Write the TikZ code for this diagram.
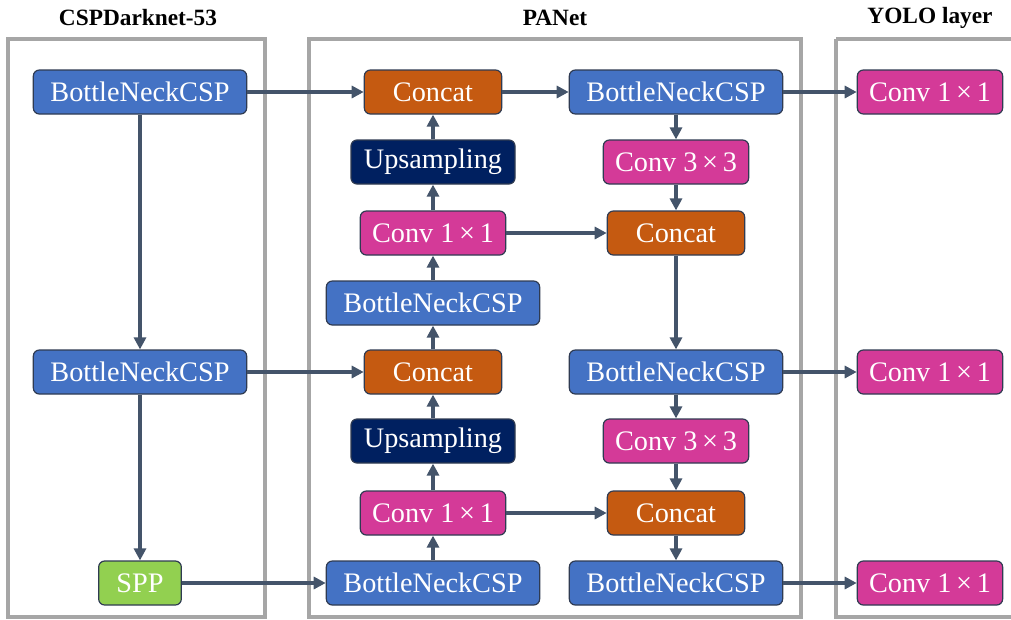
\documentclass[tikz,border=0pt]{standalone}
\usepackage{fontspec}
\setmainfont{Liberation Serif}
\usetikzlibrary{arrows.meta}
\definecolor{cblue}{HTML}{4472C4}
\definecolor{corange}{HTML}{C55A11}
\definecolor{cnavy}{HTML}{002060}
\definecolor{cmag}{HTML}{D43A98}
\definecolor{cgreen}{HTML}{92D050}
\definecolor{cedge}{HTML}{2F3B52}
\definecolor{carrow}{HTML}{44546A}
\definecolor{cpanel}{HTML}{A6A6A6}
\tikzset{
  blk/.style={draw=cedge, line width=0.9pt, rounded corners=4.5pt, text=white,
    font=\fontsize{21.2}{23}\selectfont, minimum height=33pt, inner sep=0pt, anchor=center},
  bn/.style={blk, fill=cblue, minimum width=160pt},
  cc/.style={blk, fill=corange, minimum width=103pt},
  up/.style={blk, fill=cnavy, minimum width=123pt},
  cv/.style={blk, fill=cmag, minimum width=109pt},
  spp/.style={blk, fill=cgreen, minimum width=62pt},
  panel/.style={draw=cpanel, line width=2.3pt},
  ttl/.style={font=\fontsize{17.5}{20}\selectfont\bfseries, anchor=center},
  conn/.style={draw=carrow, line width=2.6pt, -{Triangle[length=9pt,width=9pt]}},
}
\begin{document}
\begin{tikzpicture}[x=0.75pt,y=-0.75pt]
\useasboundingbox (0,0) rectangle (1011,619);
% panels
\draw[panel] (8,39) rectangle (265,617);
\draw[panel] (309,39) rectangle (801,617);
\draw[panel] (836,39) -- (836,617) -- (1030,617);
\draw[panel] (836,39) -- (1030,39);
% titles
\node[ttl] (t1) at (138,18) {CSPDarknet-53};
\node[ttl] (t2) at (555,18) {PANet};
\node[ttl] (t3) at (930,18) {YOLO layer};
% backbone
\node[bn] (b1) at (140,92) {BottleNeckCSP};
\node[bn] (b2) at (140,372) {BottleNeckCSP};
\node[spp] (spp) at (140,583) {SPP};
% PANet left column
\node[cc] (c1) at (433,92) {Concat};
\node[up] (u1) at (433,162) {Upsampling};
\node[cv] (v1) at (433,233) {Conv 1\,×\,1};
\node[bn] (p1) at (433,303) {BottleNeckCSP};
\node[cc] (c2) at (433,372) {Concat};
\node[up] (u2) at (433,441) {Upsampling};
\node[cv] (v2) at (433,513) {Conv 1\,×\,1};
\node[bn] (p2) at (433,583) {BottleNeckCSP};
% PANet right column
\node[bn] (r1) at (676,92) {BottleNeckCSP};
\node[cv] (k1) at (676,162) {Conv 3\,×\,3};
\node[cc] (d1) at (676,233) {Concat};
\node[bn] (r2) at (676,372) {BottleNeckCSP};
\node[cv] (k2) at (676,441) {Conv 3\,×\,3};
\node[cc] (d2) at (676,513) {Concat};
\node[bn] (r3) at (676,583) {BottleNeckCSP};
% YOLO
\node[cv] (y1) at (930,92) {Conv 1\,×\,1};
\node[cv] (y2) at (930,372) {Conv 1\,×\,1};
\node[cv] (y3) at (930,583) {Conv 1\,×\,1};
% connectors
\draw[conn] (b1) -- (b2);
\draw[conn] (b2) -- (spp);
\draw[conn] (b1) -- (c1);
\draw[conn] (b2) -- (c2);
\draw[conn] (spp) -- (p2);
\draw[conn] (p2) -- (v2);
\draw[conn] (v2) -- (u2);
\draw[conn] (u2) -- (c2);
\draw[conn] (c2) -- (p1);
\draw[conn] (p1) -- (v1);
\draw[conn] (v1) -- (u1);
\draw[conn] (u1) -- (c1);
\draw[conn] (c1) -- (r1);
\draw[conn] (r1) -- (k1);
\draw[conn] (k1) -- (d1);
\draw[conn] (v1) -- (d1);
\draw[conn] (d1) -- (r2);
\draw[conn] (r2) -- (k2);
\draw[conn] (k2) -- (d2);
\draw[conn] (v2) -- (d2);
\draw[conn] (d2) -- (r3);
\draw[conn] (r1) -- (y1);
\draw[conn] (r2) -- (y2);
\draw[conn] (r3) -- (y3);
\end{tikzpicture}
\end{document}
